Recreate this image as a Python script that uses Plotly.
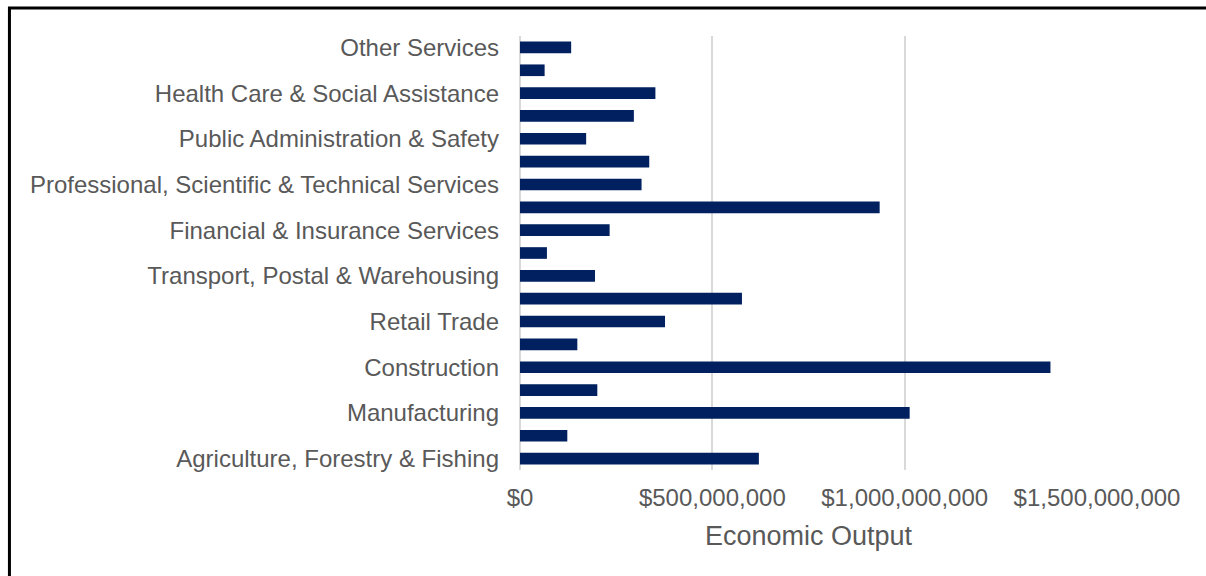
import plotly.graph_objects as go

# Industry divisions, listed bottom-to-top as they appear on the axis
industries = [
    "Agriculture, Forestry & Fishing",
    "Mining",
    "Manufacturing",
    "Electricity, Gas, Water & Waste Services",
    "Construction",
    "Wholesale Trade",
    "Retail Trade",
    "Accommodation & Food Services",
    "Transport, Postal & Warehousing",
    "Information Media & Telecommunications",
    "Financial & Insurance Services",
    "Rental, Hiring & Real Estate Services",
    "Professional, Scientific & Technical Services",
    "Administrative & Support Services",
    "Public Administration & Safety",
    "Education & Training",
    "Health Care & Social Assistance",
    "Arts & Recreation Services",
    "Other Services",
]

# Economic output per industry ($)
output = [
    621e6, 123e6, 1013e6, 201e6, 1379e6, 149e6, 377e6, 577e6, 195e6, 70e6,
    233e6, 935e6, 316e6, 336e6, 172e6, 296e6, 352e6, 64e6, 133e6,
]

# Only every second division is labelled on the category axis
labelled = industries[::2]

x_ticks = [0, 500e6, 1000e6, 1500e6]
x_tick_text = [f"${v:,.0f}" for v in x_ticks]

W, H = 1206, 576
L, R, T, B = 519.5, 109, 35.5, 105.5
pw, ph = W - L - R, H - T - B

fig = go.Figure(
    go.Bar(
        x=output,
        y=industries,
        orientation="h",
        marker=dict(color="#002060", line=dict(width=0)),
    )
)

fig.update_layout(
    width=W,
    height=H,
    margin=dict(l=L, r=R, t=T, b=B, pad=0),
    paper_bgcolor="white",
    plot_bgcolor="white",
    bargap=0.49,
    showlegend=False,
    font=dict(family="Liberation Sans, Arial, sans-serif", color="#595959"),
    xaxis=dict(
        range=[0, 1.5e9],
        tickmode="array",
        tickvals=x_ticks,
        ticktext=x_tick_text,
        tickfont=dict(size=24, color="#595959"),
        showgrid=True,
        gridcolor="#d9d9d9",
        gridwidth=1.5,
        zeroline=True,
        zerolinecolor="#d9d9d9",
        zerolinewidth=1.5,
        showline=False,
        ticks="",
        ticklabelstandoff=11,
        title=dict(
            text="Economic Output",
            font=dict(size=27, color="#595959"),
            standoff=16,
        ),
    ),
    yaxis=dict(
        type="category",
        categoryorder="array",
        categoryarray=industries,
        tickmode="array",
        tickvals=labelled,
        tickfont=dict(size=24, color="#595959"),
        showgrid=False,
        showline=False,
        ticks="",
        ticklabelstandoff=20,
    ),
)

# Chart frame
fig.add_shape(
    type="rect",
    xref="paper",
    yref="paper",
    x0=(8.5 - L) / pw,
    x1=(W + 10 - L) / pw,
    y0=(H - B - (H + 10)) / ph,
    y1=(H - B - 7.5) / ph,
    line=dict(color="black", width=3),
    fillcolor="rgba(0,0,0,0)",
    layer="above",
)

fig.write_html("out.html")
